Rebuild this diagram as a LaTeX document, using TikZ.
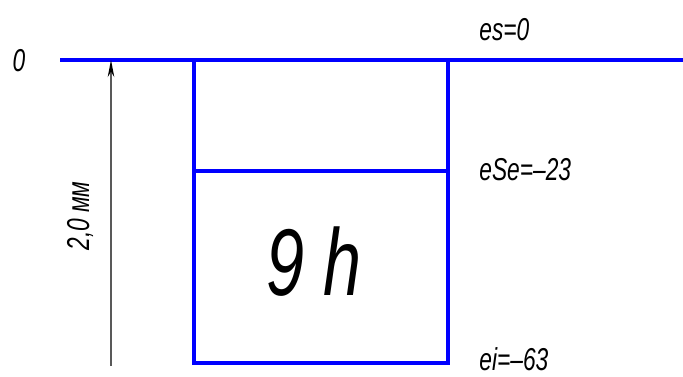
\documentclass[tikz,border=0pt]{standalone}
\usepackage{fontspec}
\setmainfont{Liberation Sans}
\usetikzlibrary{arrows.meta}
\newcommand{\narrow}[1]{\scalebox{0.72}[1]{#1}}
\tikzset{
	zone/.style={draw=blue,line width=3pt*0.75},
	lbl/.style={font=\fontsize{18}{20}\selectfont\itshape,inner sep=0pt},
	big/.style={font=\fontsize{54}{60}\selectfont\itshape,inner sep=0pt}
}
\begin{document}
\begin{tikzpicture}[x=0.02cm,y=-0.02cm]
	\useasboundingbox (0,0) rectangle (683,376);
	% zero line and field
	\coordinate (zl) at (60,60);
	\coordinate (zr) at (683,60);
	\coordinate (tl) at (194,60);
	\coordinate (tr) at (448,60);
	\coordinate (ml) at (194,171);
	\coordinate (mr) at (448,171);
	\coordinate (bl) at (194,363);
	\coordinate (br) at (448,363);
	\draw[zone] (zl) -- (zr);
	\draw[zone] (tl) -- (bl) -- (br) -- (tr);
	\draw[zone] (ml) -- (mr);
	% dimension
	\coordinate (dtop) at (111,60);
	\coordinate (dbot) at (111,366);
	\draw[gray!70!black,line width=0.6pt,-{Stealth[length=13pt*0.75,width=5pt*0.75,black]}] (dbot) -- (dtop);
	\node[name=dim,lbl,rotate=90] at (80,216){\narrow{2,0 мм}};
	% labels
	\node[name=zero,lbl] at (19,61){\narrow{0}};
	\node[name=es,lbl,anchor=west] at (479,30){\narrow{es=0}};
	\node[name=ese,lbl,anchor=west] at (479,170){\narrow{eSe=--23}};
	\node[name=ei,lbl,anchor=west] at (479,359){\narrow{ei=--63}};
	\node[name=fld,big] at (314,262){\narrow{9 h}};
\end{tikzpicture}
\end{document}
